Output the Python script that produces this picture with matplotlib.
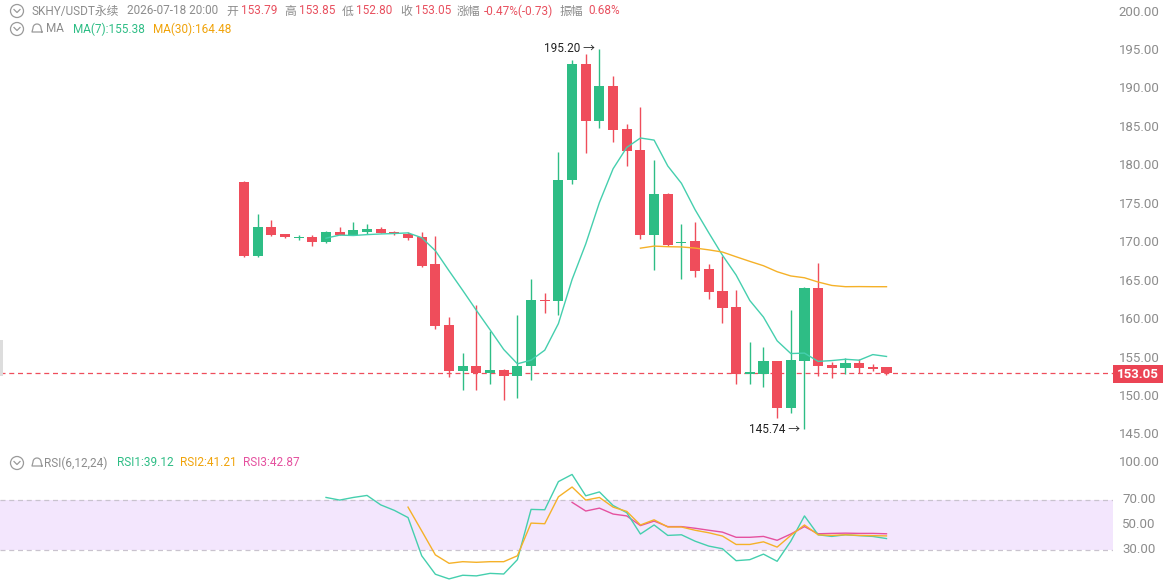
import matplotlib
matplotlib.use("Agg")
import matplotlib.pyplot as plt
import matplotlib.transforms as mtransforms
from matplotlib.patches import Rectangle, Circle
import numpy as np
import pandas as pd

# candle data (one bar per 4h)
opens = [177.9, 168.3, 172.0, 171.1, 170.65, 170.7, 170.05, 171.4, 171.0, 171.45,
         171.8, 171.4, 171.1, 170.8, 167.2, 159.3, 153.35, 154.0, 153.1, 153.45,
         152.7, 154.0, 162.55, 162.4, 178.15, 193.25, 185.85, 190.4, 184.8, 182.05,
         171.0, 176.3, 169.9, 170.2, 166.6, 163.7, 161.65, 152.95, 152.95, 154.6,
         148.45, 154.65, 164.05, 154.1, 153.7, 154.35, 153.9, 153.79]
highs = [178.0, 173.7, 173.0, 171.15, 171.0, 171.0, 171.5, 172.1, 172.65, 172.4,
         172.05, 171.5, 171.4, 171.35, 170.9, 160.3, 155.7, 161.95, 158.5, 153.55,
         160.6, 165.25, 163.4, 181.8, 193.7, 194.6, 195.2, 191.7, 185.5, 187.6,
         180.75, 176.5, 172.45, 172.65, 167.2, 168.3, 163.85, 157.1, 156.4, 154.65,
         161.25, 164.3, 167.3, 154.45, 155.0, 154.9, 154.2, 153.85]
lows = [168.1, 168.1, 170.9, 170.65, 170.3, 169.6, 169.95, 171.0, 170.95, 171.1,
        171.2, 171.05, 170.3, 166.9, 158.8, 152.6, 150.85, 150.85, 151.6, 149.55,
        149.85, 152.15, 160.9, 160.6, 177.65, 181.6, 184.9, 183.15, 180.0, 170.45,
        166.45, 169.6, 165.25, 165.6, 162.65, 159.5, 151.6, 151.6, 151.3, 147.15,
        147.9, 145.74, 152.7, 152.45, 152.9, 153.0, 153.35, 152.80]
closes = [168.3, 172.0, 171.0, 170.7, 170.7, 170.05, 171.4, 171.05, 171.65, 171.8,
          171.3, 171.1, 170.65, 167.0, 159.2, 153.35, 154.0, 153.1, 153.45, 152.7,
          153.95, 162.55, 162.4, 178.2, 193.25, 185.85, 190.4, 184.65, 181.95, 171.0,
          176.3, 169.7, 170.05, 166.35, 163.65, 161.55, 152.95, 153.15, 154.6, 148.45,
          154.75, 164.05, 154.0, 153.7, 154.35, 153.75, 153.55, 153.05]

# RSI lines as drawn (start at bar 6, 12 and 24)
rsi1 = [71.8, 69.7, 71.8, 73.4, 65.9, 61.5, 55.8, 25.4, 10.7, 7.0, 9.9, 9.4, 11.4, 10.9,
        22.3, 62.3, 62.0, 84.4, 90.1, 73.1, 76.2, 65.4, 59.7, 42.7, 49.9, 41.6, 42.1, 37.0,
        33.1, 31.0, 21.5, 22.3, 26.7, 21.0, 37.0, 57.1, 42.1, 40.8, 42.1, 41.4, 40.8, 39.1]
rsi2 = [64.1, 45.2, 26.1, 19.4, 20.7, 20.2, 20.7, 20.7, 25.4, 51.4, 50.9, 72.3, 80.1, 69.7,
        71.8, 64.1, 60.7, 49.9, 54.0, 48.3, 48.3, 45.7, 43.7, 41.1, 34.4, 34.4, 36.5, 32.3,
        41.6, 49.9, 42.1, 41.6, 42.1, 41.6, 41.4, 41.2]
rsi3 = [67.9, 61.0, 63.3, 58.6, 57.1, 49.4, 53.0, 48.6, 48.6, 47.3, 45.7, 44.2, 40.1, 40.1,
        40.8, 37.7, 42.7, 48.6, 42.9, 43.2, 43.4, 43.2, 43.2, 42.9]

price_ticks = [145, 150, 155, 160, 165, 170, 175, 180, 185, 190, 195, 200]
rsi_ticks = [100, 70, 50, 30]
last_price = 153.05

GREEN = "#2EBD85"
RED = "#EF4D5B"
TEAL = "#45CFAE"
ORANGE = "#F5B128"
PINK = "#E5519F"
GRAY = "#8C8C8C"

W, H = 1168, 586
fig = plt.figure(figsize=(W / 100, H / 100), dpi=100)
fonts = ["Roboto", "Noto Sans CJK SC", "DejaVu Sans"]
plt.rcParams["font.family"] = fonts

x0, step = 244, 13.67
xl = (-x0 / step, (1113 - x0) / step)

ax = fig.add_axes([0, (H - 447) / H, 1113 / W, 447 / H])
ax.set_xlim(*xl)
ax.set_ylim(200 - 435 / 7.69, 200 + 12 / 7.69)
ax.axis("off")

rax = fig.add_axes([0, 0, 1113 / W, (H - 452) / H])
rax.set_xlim(*xl)
rax.set_ylim(100 - 124 / 1.257, 100 + 10 / 1.257)
rax.axis("off")

idx = np.arange(len(closes))
o = np.array(opens)
c = np.array(closes)
cols = [GREEN if cc >= oo else RED for oo, cc in zip(o, c)]
ax.vlines(idx, lows, highs, colors=cols, lw=1, zorder=2)
bottoms = np.minimum(o, c)
heights = np.maximum(np.abs(c - o), 0.14)
ax.bar(idx, heights, bottom=bottoms, width=0.74, color=cols, zorder=3)

ma7 = pd.Series(closes).rolling(7).mean()
ma30 = pd.Series(closes).rolling(30).mean()
ax.plot(idx, ma7, color=TEAL, lw=1, zorder=4)
ax.plot(idx, ma30, color=ORANGE, lw=1, zorder=4)

ax.axhline(last_price, color=RED, lw=0.9, ls=(0, (4, 3)), zorder=1)

ax.text(26 - 0.3, 195.2, "195.20 \u2192", ha="right", va="center", fontsize=8.5, color="#222222")
ax.text(41 - 0.3, 145.74, "145.74 \u2192", ha="right", va="center", fontsize=8.5, color="#222222")

# rsi panel
rax.axhspan(30, 70, color="#F3E6FD", lw=0, zorder=0)
rax.axhline(70, color="#C9C3CE", lw=0.9, ls=(0, (4, 3)), zorder=1)
rax.axhline(30, color="#C9C3CE", lw=0.9, ls=(0, (4, 3)), zorder=1)
rax.plot(idx[6:], rsi1, color=TEAL, lw=1, zorder=3)
rax.plot(idx[12:], rsi2, color=ORANGE, lw=1, zorder=3)
rax.plot(idx[24:], rsi3, color=PINK, lw=1, zorder=2)

# right axis labels
tr = mtransforms.blended_transform_factory(fig.transFigure, ax.transData)
for v in price_ticks:
    ax.text(1139 / W, v, f"{v:.2f}", transform=tr, ha="center", va="center",
            fontsize=9.5, color=GRAY, clip_on=False)
tr2 = mtransforms.blended_transform_factory(fig.transFigure, rax.transData)
for v in rsi_ticks:
    rax.text(1139 / W, v, f"{v:.2f}", transform=tr2, ha="center", va="center",
             fontsize=9.5, color=GRAY, clip_on=False)

# last price tag
fig.add_artist(Rectangle((1113, H - 383), 50, 18, transform=None, color="#EB4454", lw=0))
fig.text(1138 / W, 1 - 374 / H, f"{last_price:.2f}", ha="center", va="center",
         fontsize=9.5, color="white", fontweight="bold")

# small handle at the left edge
fig.add_artist(Rectangle((0, H - 376), 3, 36, transform=None, color="#DDDDDD", lw=0))


def icon(x, y):
    fig.add_artist(Circle((x, H - y), 6.5, transform=None, fill=False, ec="#9A9A9A", lw=0.9))
    fig.add_artist(plt.Line2D([x - 3, x, x + 3], [H - y + 1.5, H - y - 1.5, H - y + 1.5],
                              transform=None, color="#9A9A9A", lw=0.9))


def bell(x, y):
    t = np.linspace(0, np.pi, 20)
    bx = x + 4 * np.cos(t)
    by = H - y + 1 + 4 * np.sin(t)
    bx = np.concatenate([[x - 5], bx[::-1][::-1], [x + 5]])
    by = np.concatenate([[H - y - 3], by, [H - y - 3]])
    fig.add_artist(plt.Line2D(np.concatenate([[x + 5], x + 4 * np.cos(t), [x - 5, x + 5]]),
                              np.concatenate([[H - y - 3], H - y + 1 + 4 * np.sin(t), [H - y - 3, H - y - 3]]),
                              transform=None, color="#9A9A9A", lw=0.9))


def label(x, y, s, color, size=8.5):
    fig.text(x / W, 1 - y / H, s, ha="left", va="center", fontsize=size, color=color)


icon(17, 11)
icon(17, 29)
icon(17, 463)
bell(37, 29)
bell(37, 463)

VAL = "#E8505F"
label(32, 11, "SKHY/USDT永续", GRAY)
label(127, 11, "2026-07-18 20:00", GRAY)
label(226, 11, "开", GRAY)
label(241, 11, "153.79", VAL)
label(284, 11, "高", GRAY)
label(299, 11, "153.85", VAL)
label(342, 11, "低", GRAY)
label(356, 11, "152.80", VAL)
label(400, 11, "收", GRAY)
label(415, 11, "153.05", VAL)
label(457, 11, "涨幅", GRAY)
label(484, 11, "-0.47%(-0.73)", VAL)
label(560, 11, "振幅", GRAY)
label(588, 11, "0.68%", VAL)

label(46, 29, "MA", GRAY)
label(73, 29, "MA(7):155.38", "#2EBD85")
label(153, 29, "MA(30):164.48", "#F0A30A")

label(44, 463, "RSI(6,12,24)", GRAY)
label(117, 463, "RSI1:39.12", "#2EBD85")
label(180, 463, "RSI2:41.21", "#F0A30A")
label(243, 463, "RSI3:42.87", PINK)

fig.savefig("out.png", dpi=100)
